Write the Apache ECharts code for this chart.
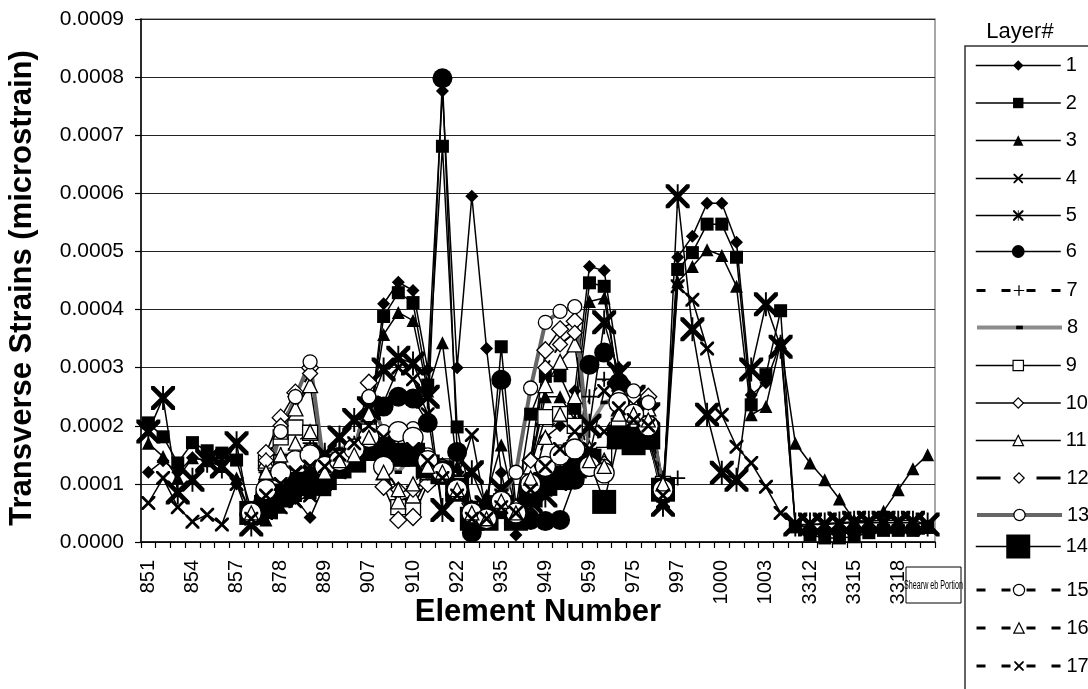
<!DOCTYPE html>
<html>
<head>
<meta charset="utf-8">
<script src="https://cdn.jsdelivr.net/npm/echarts@6/dist/echarts.min.js"></script>
<style>
  html, body { margin: 0; padding: 0; background: #fff; }
  #chart { width: 1088px; height: 689px; }
</style>
</head>
<body>
<div id="chart"></div>
<script>
// Element numbers along the girder (category axis)
const elements = ['851','852','853','854','855','856','857','858','877','878','879','888','889','890',
  '906','907','908','909','910','911','921','922','923','934','935','936','948','949','950','958','959','960',
  '974','975','976','996','997','998','999','1000','1001','1002','1003','1004',
  '3311','3312','3313','3314','3315','3316','3317','3318','3319','3320'];

const layerNames = ['1','2','3','4','5','6','7','8','9','10','11','12','13','14','15','16','17'];

// Transverse strain per layer, one value per element
const layer1 = [1.2e-4,1.4e-4,1.2e-4,1.45e-4,1.4e-4,1.35e-4,1.0e-4,0.5e-4,0.6e-4,0.7e-4,0.75e-4,0.42e-4,1.0e-4,1.3e-4,1.6e-4,1.9e-4,4.1e-4,4.47e-4,4.33e-4,2.97e-4,7.76e-4,3.0e-4,5.95e-4,3.33e-4,1.19e-4,0.12e-4,0.9e-4,1.8e-4,2.0e-4,2.6e-4,4.74e-4,4.67e-4,3.0e-4,2.5e-4,2.2e-4,0.9e-4,4.9e-4,5.26e-4,5.83e-4,5.83e-4,5.16e-4,2.53e-4,2.74e-4,3.43e-4,0.28e-4,0.25e-4,0.2e-4,0.2e-4,0.22e-4,0.25e-4,0.25e-4,0.25e-4,0.25e-4,0.28e-4];
const layer2 = [2.05e-4,1.81e-4,1.36e-4,1.71e-4,1.57e-4,1.53e-4,1.41e-4,0.55e-4,0.65e-4,0.75e-4,0.8e-4,0.85e-4,0.9e-4,1.2e-4,1.5e-4,1.9e-4,3.88e-4,4.29e-4,4.12e-4,2.7e-4,6.81e-4,1.98e-4,0.6e-4,0.36e-4,3.36e-4,0.6e-4,2.2e-4,2.85e-4,2.86e-4,2.3e-4,4.46e-4,4.4e-4,2.6e-4,1.7e-4,1.7e-4,0.9e-4,4.69e-4,4.98e-4,5.47e-4,5.47e-4,4.9e-4,2.36e-4,2.88e-4,3.98e-4,0.26e-4,0.12e-4,0.07e-4,0.07e-4,0.09e-4,0.16e-4,0.2e-4,0.2e-4,0.2e-4,0.25e-4];
const layer3 = [1.7e-4,1.47e-4,1.1e-4,1.45e-4,1.4e-4,1.3e-4,1.1e-4,0.45e-4,0.38e-4,0.6e-4,0.8e-4,0.9e-4,1.0e-4,1.3e-4,1.6e-4,2.0e-4,3.57e-4,3.95e-4,3.81e-4,2.6e-4,3.43e-4,1.3e-4,0.5e-4,0.8e-4,1.67e-4,0.5e-4,1.3e-4,2.5e-4,2.5e-4,2.1e-4,4.14e-4,4.2e-4,2.7e-4,2.3e-4,2.0e-4,0.9e-4,4.48e-4,4.74e-4,5.03e-4,4.93e-4,4.4e-4,2.19e-4,2.33e-4,3.43e-4,1.7e-4,1.36e-4,1.07e-4,0.74e-4,0.38e-4,0.35e-4,0.53e-4,0.9e-4,1.26e-4,1.5e-4];
const layer4 = [0.67e-4,1.1e-4,0.6e-4,0.35e-4,0.47e-4,0.3e-4,1.0e-4,0.3e-4,0.5e-4,0.6e-4,0.7e-4,0.8e-4,1.0e-4,1.2e-4,1.4e-4,1.7e-4,2.4e-4,3.0e-4,2.8e-4,2.2e-4,0.52e-4,1.1e-4,1.84e-4,0.5e-4,0.8e-4,0.4e-4,0.6e-4,0.9e-4,1.0e-4,1.4e-4,1.5e-4,2.6e-4,2.4e-4,2.0e-4,1.8e-4,0.7e-4,4.4e-4,4.17e-4,3.33e-4,2.19e-4,1.64e-4,1.36e-4,0.95e-4,0.5e-4,0.28e-4,0.3e-4,0.32e-4,0.33e-4,0.35e-4,0.36e-4,0.37e-4,0.37e-4,0.37e-4,0.3e-4];
const layer5 = [1.9e-4,2.48e-4,0.85e-4,1.07e-4,1.4e-4,1.3e-4,1.7e-4,0.3e-4,0.6e-4,0.8e-4,1.0e-4,1.2e-4,1.5e-4,1.8e-4,2.1e-4,2.3e-4,2.97e-4,3.17e-4,3.07e-4,2.5e-4,0.55e-4,1.0e-4,1.2e-4,0.6e-4,0.9e-4,0.5e-4,0.7e-4,0.8e-4,1.1e-4,1.5e-4,2.0e-4,3.78e-4,2.9e-4,2.5e-4,2.2e-4,0.64e-4,5.95e-4,3.66e-4,2.19e-4,1.19e-4,1.07e-4,2.97e-4,4.09e-4,3.36e-4,0.3e-4,0.3e-4,0.3e-4,0.32e-4,0.33e-4,0.33e-4,0.33e-4,0.33e-4,0.33e-4,0.3e-4];
const layer6 = [null,null,null,null,null,null,null,0.45e-4,0.6e-4,0.8e-4,1.0e-4,1.05e-4,1.2e-4,1.3e-4,1.5e-4,1.8e-4,2.33e-4,2.5e-4,2.47e-4,2.05e-4,7.98e-4,1.55e-4,0.16e-4,0.55e-4,2.79e-4,0.4e-4,0.38e-4,0.36e-4,0.38e-4,1.07e-4,3.05e-4,3.26e-4,2.74e-4,2.0e-4,1.9e-4,0.9e-4];
const layer7 = [null,null,null,null,null,null,null,0.5e-4,1.2e-4,1.5e-4,1.6e-4,1.7e-4,1.5e-4,1.6e-4,1.7e-4,1.8e-4,1.75e-4,1.8e-4,1.75e-4,1.3e-4,1.2e-4,1.0e-4,0.6e-4,0.5e-4,0.7e-4,0.5e-4,1.0e-4,1.1e-4,1.3e-4,1.5e-4,2.5e-4,2.8e-4,2.6e-4,2.2e-4,2.0e-4,1.1e-4,1.1e-4];
const layer8 = [null,null,null,null,null,null,null,0.5e-4,0.9e-4,1.5e-4,1.5e-4,1.6e-4,1.5e-4,1.6e-4,1.7e-4,1.8e-4,1.4e-4,1.2e-4,1.5e-4,1.4e-4,1.2e-4,0.9e-4,0.5e-4,0.4e-4,0.6e-4,0.5e-4,0.8e-4,1.1e-4,1.4e-4,1.6e-4,2.0e-4,2.4e-4,2.5e-4,2.1e-4,1.9e-4,0.9e-4];
const layer9 = [null,null,null,null,null,null,null,0.5e-4,1.36e-4,1.8e-4,1.97e-4,1.88e-4,1.2e-4,1.4e-4,1.5e-4,1.9e-4,1.36e-4,0.6e-4,0.6e-4,1.1e-4,1.3e-4,1.0e-4,0.5e-4,0.4e-4,0.7e-4,0.5e-4,1.3e-4,2.15e-4,2.2e-4,2.0e-4,1.3e-4,1.5e-4,2.0e-4,2.1e-4,2.0e-4,1.0e-4];
const layer10 = [null,null,null,null,null,null,null,0.5e-4,1.53e-4,2.14e-4,2.57e-4,3.0e-4,1.1e-4,1.4e-4,1.6e-4,2.74e-4,0.95e-4,0.38e-4,0.43e-4,1.0e-4,1.3e-4,0.9e-4,0.5e-4,0.4e-4,0.7e-4,0.6e-4,1.4e-4,3.3e-4,3.66e-4,3.8e-4,1.4e-4,1.3e-4,2.3e-4,2.5e-4,2.5e-4,1.0e-4];
const layer11 = [null,null,null,null,null,null,null,0.5e-4,1.4e-4,1.9e-4,2.3e-4,2.7e-4,1.1e-4,1.4e-4,1.6e-4,2.2e-4,1.2e-4,0.7e-4,0.8e-4,1.2e-4,1.3e-4,0.9e-4,0.5e-4,0.4e-4,0.7e-4,0.6e-4,1.3e-4,2.7e-4,3.1e-4,3.4e-4,1.6e-4,1.4e-4,2.3e-4,2.4e-4,2.3e-4,1.0e-4];
const layer12 = [null,null,null,null,null,null,null,0.5e-4,1.4e-4,2.0e-4,2.5e-4,2.9e-4,1.2e-4,1.4e-4,1.6e-4,2.5e-4,1.3e-4,0.9e-4,0.9e-4,1.2e-4,1.3e-4,0.9e-4,0.5e-4,0.4e-4,0.7e-4,0.6e-4,1.4e-4,3.0e-4,3.4e-4,3.6e-4,1.5e-4,1.35e-4,2.4e-4,2.5e-4,2.4e-4,1.0e-4];
const layer13 = [null,null,null,null,null,null,null,0.5e-4,1.0e-4,1.9e-4,2.5e-4,3.1e-4,1.2e-4,1.4e-4,1.6e-4,2.5e-4,1.9e-4,1.9e-4,1.95e-4,1.5e-4,1.3e-4,0.9e-4,0.5e-4,0.4e-4,0.7e-4,1.2e-4,2.65e-4,3.78e-4,3.97e-4,4.05e-4,1.5e-4,1.3e-4,2.5e-4,2.6e-4,2.4e-4,0.9e-4];
const layer14 = [null,null,null,null,null,null,null,0.5e-4,0.6e-4,0.8e-4,1.0e-4,1.0e-4,1.1e-4,1.3e-4,1.4e-4,1.6e-4,1.6e-4,1.5e-4,1.5e-4,1.3e-4,1.2e-4,0.9e-4,0.4e-4,0.4e-4,0.6e-4,0.4e-4,0.8e-4,1.0e-4,1.1e-4,1.3e-4,1.4e-4,0.69e-4,1.8e-4,1.7e-4,1.8e-4,0.9e-4];
const layer15 = [null,null,null,null,null,null,null,0.5e-4,0.9e-4,1.2e-4,1.4e-4,1.5e-4,1.3e-4,1.4e-4,1.6e-4,1.8e-4,1.3e-4,1.9e-4,1.8e-4,1.4e-4,1.2e-4,0.9e-4,0.5e-4,0.4e-4,0.7e-4,0.5e-4,1.0e-4,1.3e-4,1.5e-4,1.6e-4,1.3e-4,1.19e-4,2.4e-4,2.2e-4,2.0e-4,0.9e-4];
const layer16 = [null,null,null,null,null,null,null,0.5e-4,1.2e-4,1.5e-4,1.7e-4,1.9e-4,1.2e-4,1.4e-4,1.5e-4,1.8e-4,1.2e-4,0.9e-4,1.0e-4,1.3e-4,1.2e-4,0.9e-4,0.5e-4,0.4e-4,0.7e-4,0.5e-4,1.1e-4,1.8e-4,2.2e-4,2.5e-4,1.4e-4,1.3e-4,2.2e-4,2.2e-4,2.1e-4,1.0e-4];
const layer17 = [null,null,null,null,null,null,null,0.4e-4,0.8e-4,1.0e-4,1.2e-4,1.3e-4,1.3e-4,1.5e-4,1.7e-4,2.0e-4,1.8e-4,1.5e-4,1.6e-4,1.4e-4,1.1e-4,0.8e-4,0.4e-4,0.4e-4,0.6e-4,0.5e-4,0.9e-4,1.3e-4,1.6e-4,1.9e-4,1.6e-4,1.9e-4,2.3e-4,2.1e-4,2.0e-4,0.8e-4];

const layerData = [layer1, layer2, layer3, layer4, layer5, layer6, layer7, layer8, layer9,
  layer10, layer11, layer12, layer13, layer14, layer15, layer16, layer17];

const FONT = '"Liberation Sans", Arial, sans-serif';

// marker shapes
const X_D = 'M0,0L1.4,0L5,3.6L8.6,0L10,0L10,1.4L6.4,5L10,8.6L10,10L8.6,10L5,6.4L1.4,10L0,10L0,8.6L3.6,5L0,1.4Z';
const X_PATH = 'path://' + X_D;
const STAR_PATH = 'path://' + X_D + 'M4.6,0L5.4,0L5.4,10L4.6,10Z';
const PLUS_PATH = 'path://M4.4,0L5.6,0L5.6,4.4L10,4.4L10,5.6L5.6,5.6L5.6,10L4.4,10L4.4,5.6L0,5.6L0,4.4L4.4,4.4Z';
const DASH_PATH = 'path://M0,0L0.01,0L0,0.01Z M2,3.5L8,3.5L8,6.5L2,6.5Z M10,10L9.99,10L10,9.99Z';

// per-layer drawing style: symbol, size, hollow, line colour/width/dash,
// legend line width/dash (ld) and legend icon height (lh)
const BLACK = '#000';
const DASHED = [5, 8];
const LDASH = [9, 16];
const layerStyles = [
  { symbol: 'diamond',   size: 13, hollow: false, color: BLACK,  width: 1.5, dash: 'solid', lw: 1.5, ld: 'solid', lh: 13 },
  { symbol: 'rect',      size: 13, hollow: false, color: BLACK,  width: 1.5, dash: 'solid', lw: 1.5, ld: 'solid', lh: 13 },
  { symbol: 'triangle',  size: 13, hollow: false, color: BLACK,  width: 1.5, dash: 'solid', lw: 1.5, ld: 'solid', lh: 13 },
  { symbol: X_PATH,      size: 14, hollow: false, color: BLACK,  width: 1.5, dash: 'solid', lw: 1.5, ld: 'solid', lh: 12 },
  { symbol: STAR_PATH,   size: 24, hollow: false, color: BLACK,  width: 1.5, dash: 'solid', lw: 1.5, ld: 'solid', lh: 13 },
  { symbol: 'circle',    size: 20, hollow: false, color: BLACK,  width: 1.5, dash: 'solid', lw: 1.5, ld: 'solid', lh: 16 },
  { symbol: PLUS_PATH,   size: 15, hollow: false, color: BLACK,  width: 1.5, dash: DASHED,  lw: 3,   ld: LDASH,   lh: 13 },
  { symbol: DASH_PATH,   size: 12, hollow: false, color: '#8c8c8c', width: 4, dash: 'solid', lw: 4,  ld: 'solid', lh: 14 },
  { symbol: 'rect',      size: 15, hollow: true,  color: BLACK,  width: 1.5, dash: 'solid', lw: 1.5, ld: 'solid', lh: 13 },
  { symbol: 'diamond',   size: 17, hollow: true,  color: BLACK,  width: 1.5, dash: 'solid', lw: 1.5, ld: 'solid', lh: 13 },
  { symbol: 'triangle',  size: 15, hollow: true,  color: BLACK,  width: 1.5, dash: 'solid', lw: 1.5, ld: 'solid', lh: 13 },
  { symbol: 'diamond',   size: 15, hollow: true,  color: BLACK,  width: 2,   dash: [16, 9, 5, 9], lw: 3, ld: [24, 14, 8, 14], lh: 13 },
  { symbol: 'circle',    size: 14, hollow: true,  color: '#666666', width: 4, dash: 'solid', lw: 4,  ld: 'solid', lh: 14 },
  { symbol: 'rect',      size: 24, hollow: false, color: BLACK,  width: 1.5, dash: 'solid', lw: 1.5, ld: 'solid', lh: 30 },
  { symbol: 'circle',    size: 20, hollow: true,  color: BLACK,  width: 1.5, dash: DASHED,  lw: 3,   ld: LDASH,   lh: 14 },
  { symbol: 'triangle',  size: 14, hollow: true,  color: BLACK,  width: 1.5, dash: DASHED,  lw: 3,   ld: LDASH,   lh: 13 },
  { symbol: X_PATH,      size: 14, hollow: false, color: BLACK,  width: 1.5, dash: DASHED,  lw: 3,   ld: LDASH,   lh: 12 }
];

const series = layerNames.map((name, k) => {
  const st = layerStyles[k];
  return {
    name: name,
    type: 'line',
    data: layerData[k],
    symbol: st.symbol,
    symbolSize: st.size,
    showAllSymbol: true,
    connectNulls: false,
    lineStyle: { color: st.color, width: st.width, type: st.dash },
    itemStyle: st.hollow
      ? { color: '#fff', borderColor: '#000', borderWidth: 1.3 }
      : { color: '#000', borderWidth: 0 },
    emphasis: { disabled: true },
    z: 2
  };
});

// one legend block per layer, stacked down the right-hand panel
const legends = layerNames.map((name, k) => {
  const st = layerStyles[k];
  return {
    data: [name],
    orient: 'vertical',
    left: 975,
    top: 62 + 37.5 * k - st.lh / 2,
    padding: 0,
    itemWidth: 85,
    itemHeight: st.lh,
    selectedMode: false,
    textStyle: { fontSize: 20, color: '#000', fontFamily: FONT },
    itemStyle: st.hollow
      ? { color: '#fff', borderColor: '#000', borderWidth: 1.2 }
      : { color: '#000', borderWidth: 0 },
    lineStyle: { color: st.color, width: st.lw, type: st.ld }
  };
});

const chart = echarts.init(document.getElementById('chart'), null, { renderer: 'canvas' });
chart.setOption({
  animation: false,
  backgroundColor: '#fff',
  grid: {
    left: 141, right: 153, top: 19, bottom: 147,
    show: true, borderColor: '#8a8a8a', borderWidth: 1.5,
    containLabel: false, outerBoundsMode: 'none'
  },
  legend: legends,
  xAxis: {
    type: 'category',
    data: elements,
    boundaryGap: true,
    axisLine: { lineStyle: { color: '#000', width: 1.5 } },
    axisTick: { show: true, interval: 0, length: 6, lineStyle: { color: '#000', width: 1.2 } },
    axisLabel: { interval: 2, rotate: 90, fontSize: 20, color: '#000', margin: 18, fontFamily: FONT },
    splitLine: { show: false }
  },
  yAxis: {
    type: 'value',
    min: 0, max: 0.0009, interval: 0.0001,
    axisLine: { show: true, lineStyle: { color: '#000', width: 1.5 } },
    axisTick: { show: true, length: 6, lineStyle: { color: '#000', width: 1.2 } },
    axisLabel: { fontSize: 21, color: '#000', margin: 17, fontFamily: FONT,
      formatter: v => v.toFixed(4) },
    splitLine: { lineStyle: { color: '#222', width: 1 } }
  },
  graphic: [
    { type: 'text', x: 22, y: 288, rotation: Math.PI / 2,
      style: { text: 'Transverse Strains (microstrain)', font: 'bold 31px ' + FONT, fill: '#000',
        align: 'center', verticalAlign: 'middle' } },
    { type: 'text', x: 538, y: 612,
      style: { text: 'Element Number', font: 'bold 31px ' + FONT, fill: '#000',
        align: 'center', verticalAlign: 'middle' } },
    { type: 'text', x: 1020, y: 32,
      style: { text: 'Layer#', font: '22px ' + FONT, fill: '#000', align: 'center', verticalAlign: 'middle' } },
    { type: 'rect', shape: { x: 965, y: 46, width: 140, height: 700 },
      style: { fill: 'none', stroke: '#333', lineWidth: 1.5 }, z: -1 },
    { type: 'rect', shape: { x: 906, y: 567, width: 55, height: 36 },
      style: { fill: '#fff', stroke: '#000', lineWidth: 1 }, z: -1 },
    { type: 'text', x: 933.5, y: 585, scaleX: 0.55,
      style: { text: 'Shearw eb Portion', font: '13px ' + FONT, fill: '#000', align: 'center', verticalAlign: 'middle' }, z: -1 }
  ],
  series: series
});
</script>
</body>
</html>
